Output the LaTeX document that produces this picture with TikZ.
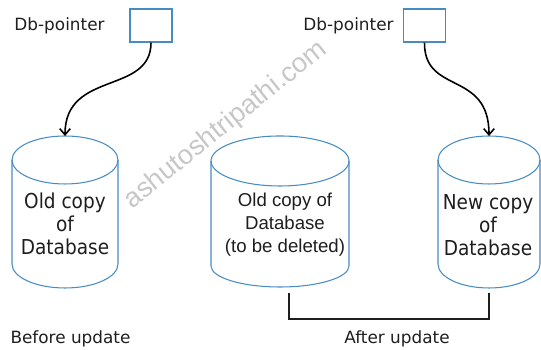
\documentclass[tikz,border=0pt]{standalone}
\usepackage{fontspec}
\setmainfont{DejaVu Sans}
\newfontfamily\condfont[FakeStretch=0.9]{DejaVu Sans}
\newfontfamily\arialfont{Liberation Sans}
\usepackage{tikz}
\usetikzlibrary{arrows.meta}
\definecolor{dbblue}{RGB}{70,140,195}
\definecolor{inkgray}{RGB}{30,30,30}
\tikzset{
  ptrbox/.style={draw=dbblue, line width=0.7pt, minimum width=42*0.02cm, minimum height=33*0.02cm, inner sep=0pt},
  ptrlabel/.style={text=inkgray, font=\fontsize{9.6}{11}\selectfont, inner sep=0pt},
  dbline/.style={draw=dbblue, line width=0.6pt},
  dbtext/.style={text=inkgray, align=center, inner sep=0pt, font=\condfont\fontsize{11.7}{13.1}\selectfont},
  oldtext/.style={text=inkgray, align=center, inner sep=0pt, font=\arialfont\fontsize{10.6}{13.1}\selectfont},
  pointsto/.style={-{Straight Barb[length=3.5pt, width=6pt]}, line width=0.9pt, black},
  watermark/.style={text=black!22, font=\arialfont\fontsize{15.5}{16}\selectfont, inner sep=0pt}
}

\begin{document}
\begin{tikzpicture}[x=0.02cm, y=0.02cm]
  \useasboundingbox (0,0) rectangle (541,350);

  % watermark
  \node[watermark, rotate=38.7] (wm) at (226,225) {ashutoshtripathi.com};

  % pointers
  \node[ptrlabel] (lbold) at (59.5,324) {Db-pointer};
  \node[ptrbox] (ptrold) at (151,324.5) {};
  \node[ptrlabel] (lbnew) at (348.5,324) {Db-pointer};
  \node[ptrbox] (ptrnew) at (424.5,324.5) {};

  % databases
  \draw[dbline] (65,190) ellipse [x radius=53, y radius=24];
  \draw[dbline] (12,190) -- (12,86) arc[start angle=180, end angle=360, x radius=53, y radius=24] -- (118,190);
  \coordinate (oldtop) at (65,214);
  \node[dbtext] (olddb) at (65,126) {Old copy\\of\\Database};

  \draw[dbline] (280,189) ellipse [x radius=69, y radius=25];
  \draw[dbline] (211,189) -- (211,84) arc[start angle=180, end angle=360, x radius=69, y radius=21] -- (349,189);
  \node[oldtext] (deldb) at (285,125) {Old copy of\\Database\\(to be deleted)};

  \draw[dbline] (489,190) ellipse [x radius=51, y radius=24];
  \draw[dbline] (438,190) -- (438,86) arc[start angle=180, end angle=360, x radius=51, y radius=24] -- (540,190);
  \coordinate (newtop) at (489,214);
  \node[dbtext] (newdb) at (488,125) {New copy\\of\\Database};

  % pointer arrows
  \draw[pointsto] (ptrold.south) .. controls (151,255) and (65,280) .. (oldtop);
  \draw[pointsto] (ptrnew.south) .. controls (424,255) and (489,280) .. (newtop);

  % captions
  \coordinate (brl) at (289,57);
  \coordinate (brr) at (489,57);
  \draw[inkgray, line width=0.75pt] (brl) -- ++(0,-26) -| (brr);
  \node[ptrlabel] (before) at (70.5,11) {Before update};
  \node[ptrlabel] (after) at (397,11) {After update};
\end{tikzpicture}
\end{document}
